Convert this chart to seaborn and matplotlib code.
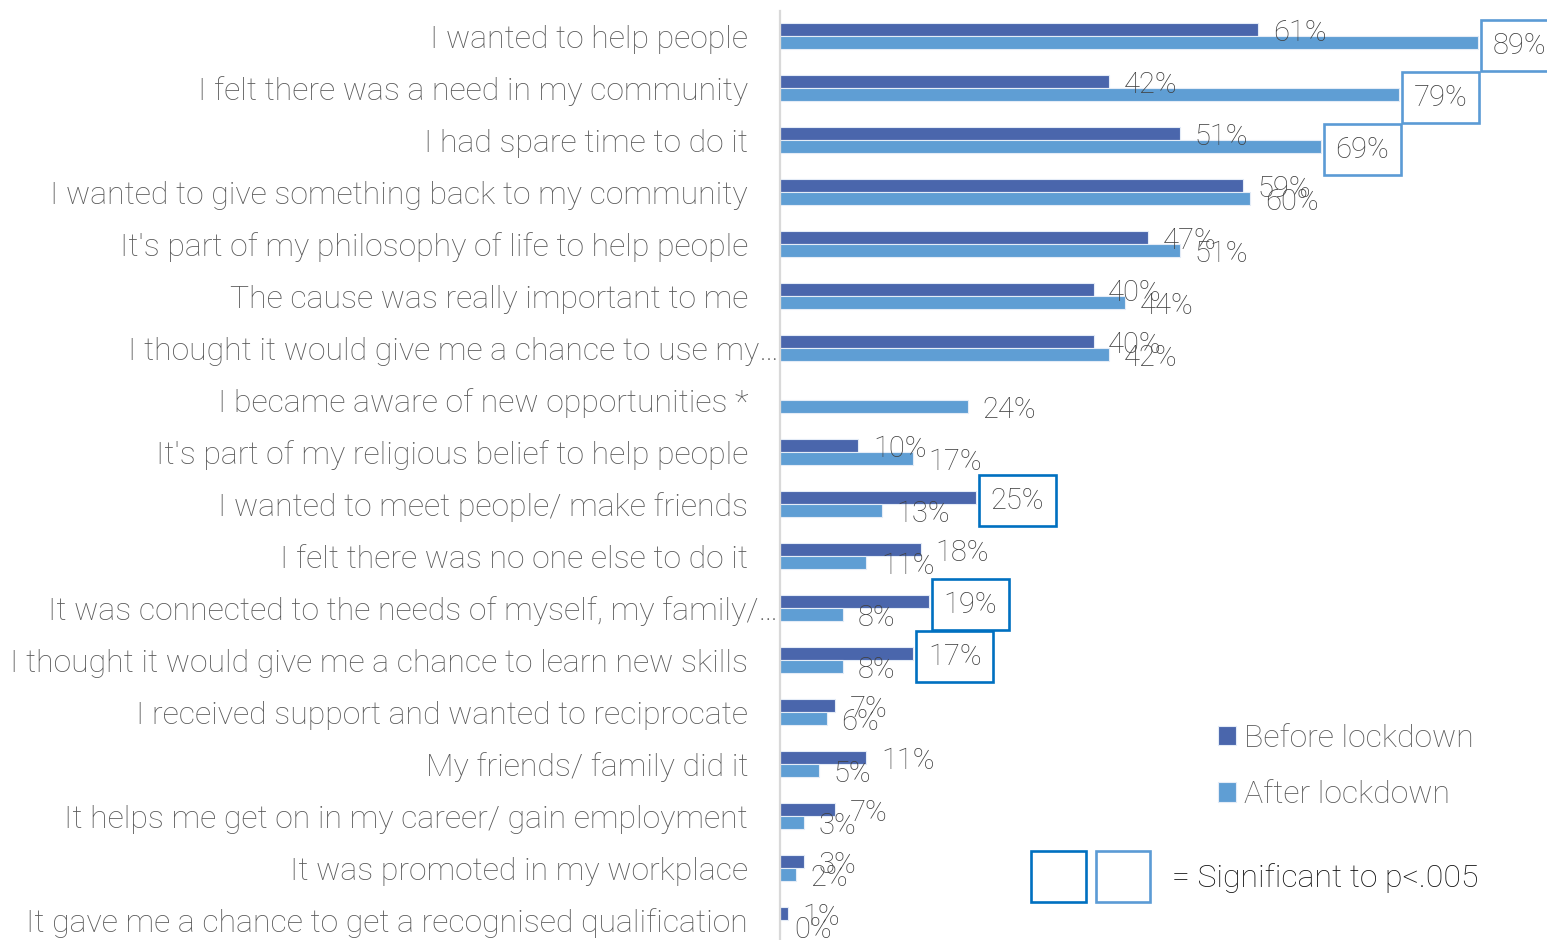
import matplotlib
matplotlib.use("Agg")
import matplotlib.pyplot as plt
from matplotlib.patches import Rectangle
import seaborn as sns
import pandas as pd
import numpy as np

# Reasons for volunteering, before and after lockdown (% of respondents)
reasons = [
    "I wanted to help people",
    "I felt there was a need in my community",
    "I had spare time to do it",
    "I wanted to give something back to my community",
    "It's part of my philosophy of life to help people",
    "The cause was really important to me",
    "I thought it would give me a chance to use my…",
    "I became aware of new opportunities *",
    "It's part of my religious belief to help people",
    "I wanted to meet people/ make friends",
    "I felt there was no one else to do it",
    "It was connected to the needs of myself, my family/…",
    "I thought it would give me a chance to learn new skills",
    "I received support and wanted to reciprocate",
    "My friends/ family did it",
    "It helps me get on in my career/ gain employment",
    "It was promoted in my workplace",
    "It gave me a chance to get a recognised qualification",
]
before = [61, 42, 51, 59, 47, 40, 40, np.nan, 10, 25, 18, 19, 17, 7, 11, 7, 3, 1]
after = [89, 79, 69, 60, 51, 44, 42, 24, 17, 13, 11, 8, 8, 6, 5, 3, 2, 0]
# significant differences (p<.005), flagged per period
sig_before = [False] * 9 + [True, False, True, True] + [False] * 5
sig_after = [True, True, True] + [False] * 15
periods = ["Before lockdown", "After lockdown"]

c_before = "#4A66AC"
c_after = "#5F9ED4"
box_before = "#0070C0"
box_after = "#5B9BD5"
grey = "#595959"

df = pd.concat([
    pd.DataFrame({"reason": reasons, "pct": before, "period": periods[0]}),
    pd.DataFrame({"reason": reasons, "pct": after, "period": periods[1]}),
]).dropna()

sns.set_theme(style="white")
plt.rcParams["font.family"] = ["Roboto", "DejaVu Sans"]
plt.rcParams["font.weight"] = "light"

W, H = 1547, 940
row = 52.0            # pixel pitch between categories
top = 36 - row / 2    # top edge of the first category band
bottom = top + row * len(reasons)
fig = plt.figure(figsize=(W / 100, H / 100), dpi=100)
ax = fig.add_axes([780 / W, 1 - bottom / H, (W - 780) / W, (bottom - top) / H])

sns.barplot(data=df, y="reason", x="pct", hue="period", order=reasons,
            hue_order=periods, palette=[c_before, c_after], saturation=1,
            width=0.5, orient="h", edgecolor="#e4ecf7", linewidth=0.8, ax=ax)

ax.set_xlim(0, (W - 780) / 7.84)
ax.set_ylim(len(reasons) - 0.5, -0.5)
ax.set_xlabel("")
ax.set_ylabel("")
ax.set_xticks([])
for s in ["top", "right", "bottom"]:
    ax.spines[s].set_visible(False)
ax.spines["left"].set_color("#D9D9D9")
ax.spines["left"].set_linewidth(1.6)
ax.spines["left"].set_bounds(len(reasons) - 0.5, -0.48)

ax.tick_params(axis="y", length=0, pad=23, labelsize=23, labelcolor=grey)
for i, tick in enumerate(ax.yaxis.get_major_ticks()):
    if reasons[i].endswith("…"):
        tick.set_pad(1)

# value labels, boxed where the change is significant
for cont, flags, bcol in zip(ax.containers, [sig_before, sig_after], [box_before, box_after]):
    for bar in cont:
        w = bar.get_width()
        yc = bar.get_y() + bar.get_height() / 2
        idx = int(round(yc))
        kw = {}
        if flags[idx]:
            kw["bbox"] = dict(boxstyle="square,pad=0.4", fc="white", ec=bcol, lw=1.9)
        ax.annotate(f"{w:.0f}%", (w, yc), xytext=(10.5, -2.2), textcoords="offset points",
                    ha="left", va="center", fontsize=21, color="#404040",
                    annotation_clip=False, **kw)

leg = ax.legend(loc="upper left", bbox_to_anchor=(1218 / W, 1 - 724 / H),
                bbox_transform=fig.transFigure, frameon=False, fontsize=23,
                handlelength=0.56, handleheight=0.56, handletextpad=0.25,
                labelspacing=0.85, borderpad=0, borderaxespad=0)
for t in leg.get_texts():
    t.set_color(grey)

# key for the significance boxes
fig.add_artist(Rectangle((1031 / W, 1 - 902 / H), 55 / W, 51 / H, transform=fig.transFigure,
                         fill=False, ec=box_before, lw=1.9))
fig.add_artist(Rectangle((1096 / W, 1 - 902 / H), 54 / W, 51 / H, transform=fig.transFigure,
                         fill=False, ec=box_after, lw=1.9))
fig.text(1172 / W, 1 - 878 / H, "= Significant to p<.005", ha="left", va="center",
         fontsize=23, color="#111111")

fig.savefig("out.png", dpi=100)
